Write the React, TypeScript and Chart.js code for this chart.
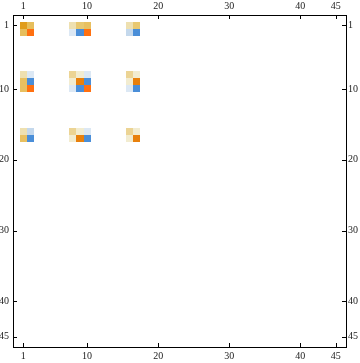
import { useEffect, useRef } from 'react';
import { Chart, registerables } from 'chart.js';

Chart.register(...registerables);

// Non-zero cells of the matrix (row, column, value)
const cellRows = [
  1, 1, 2, 2,
  1, 1, 1, 2, 2, 2,
  1, 1, 2, 2,
  8, 8, 9, 9, 10, 10,
  8, 8, 8, 9, 9, 9, 10, 10, 10,
  8, 8, 9, 9, 10, 10,
  16, 16, 17, 17,
  16, 16, 16, 17, 17, 17,
  16, 16, 17, 17,
];
const cellCols = [
  1, 2, 1, 2,
  8, 9, 10, 8, 9, 10,
  16, 17, 16, 17,
  1, 2, 1, 2, 1, 2,
  8, 9, 10, 8, 9, 10, 8, 9, 10,
  16, 17, 16, 17, 16, 17,
  1, 2, 1, 2,
  8, 9, 10, 8, 9, 10,
  16, 17, 16, 17,
];
const cellValues = [
  0.7, 0.45, 0.45, 1,
  0.2, 0.4, 0.5, -0.15, -1, 1,
  0.2, 0.4, -0.3, -1,
  0.2, -0.15, 0.5, -1, 0.5, 1,
  0.3, 0.1, -0.15, 0.1, 0.85, -1, -0.15, -1, 1,
  0.3, 0.1, 0.1, 0.85, -0.15, -1,
  0.2, -0.3, 0.5, -1,
  0.3, 0.1, -0.15, 0.1, 0.85, -1,
  0.3, 0.1, 0.1, 0.85,
];
const tickValues = [1, 10, 20, 30, 40, 45];
const axisMin = -0.43;
const axisMax = 46.43;

const colorStops: [number, number[]][] = [
  [-1, [74, 142, 216]],
  [-0.3, [196, 216, 236]],
  [-0.15, [220, 232, 244]],
  [0, [250, 248, 240]],
  [0.1, [242, 236, 208]],
  [0.2, [238, 224, 176]],
  [0.3, [236, 212, 148]],
  [0.4, [232, 200, 112]],
  [0.45, [230, 190, 92]],
  [0.5, [232, 192, 96]],
  [0.7, [224, 156, 28]],
  [0.85, [232, 128, 12]],
  [1, [255, 112, 16]],
];

function colorFor(v: number): string {
  for (let i = 0; i < colorStops.length - 1; i++) {
    const [a, ca] = colorStops[i];
    const [b, cb] = colorStops[i + 1];
    if (v >= a && v <= b) {
      const t = b === a ? 0 : (v - a) / (b - a);
      const c = ca.map((x, k) => Math.round(x + (cb[k] - x) * t));
      return `rgb(${c[0]},${c[1]},${c[2]})`;
    }
  }
  const c = v < 0 ? colorStops[0][1] : colorStops[colorStops.length - 1][1];
  return `rgb(${c[0]},${c[1]},${c[2]})`;
}

const cellPlugin = {
  id: 'cells',
  beforeDatasetsDraw(chart: any) {
    const ctx = chart.ctx;
    const xs = chart.scales.x;
    const ys = chart.scales.y;
    const area = chart.chartArea;
    const ds = chart.data.datasets[0];
    ctx.save();
    ctx.beginPath();
    ctx.rect(area.left, area.top, area.right - area.left, area.bottom - area.top);
    ctx.clip();
    ds.data.forEach((p: any) => {
      const x0 = Math.round(xs.getPixelForValue(p.x - 0.5));
      const x1 = Math.round(xs.getPixelForValue(p.x + 0.5));
      const y0 = Math.round(ys.getPixelForValue(p.y - 0.5));
      const y1 = Math.round(ys.getPixelForValue(p.y + 0.5));
      ctx.fillStyle = colorFor(p.v);
      ctx.fillRect(Math.min(x0, x1), Math.min(y0, y1), Math.abs(x1 - x0), Math.abs(y1 - y0));
    });
    ctx.restore();
  },
};

const tickPlugin = {
  id: 'inwardTicks',
  afterDraw(chart: any) {
    const ctx = chart.ctx;
    const area = chart.chartArea;
    const len = 4;
    ctx.save();
    ctx.strokeStyle = '#000';
    ctx.lineWidth = 1;
    ctx.beginPath();
    tickValues.forEach((v) => {
      const px = Math.round(chart.scales.x.getPixelForValue(v)) + 0.5;
      ctx.moveTo(px, Math.round(area.bottom));
      ctx.lineTo(px, Math.round(area.bottom) - len);
      ctx.moveTo(px, Math.round(area.top));
      ctx.lineTo(px, Math.round(area.top) + len);
      const py = Math.round(chart.scales.y.getPixelForValue(v)) + 0.5;
      ctx.moveTo(Math.round(area.left), py);
      ctx.lineTo(Math.round(area.left) + len, py);
      ctx.moveTo(Math.round(area.right), py);
      ctx.lineTo(Math.round(area.right) - len, py);
    });
    ctx.stroke();
    ctx.restore();
  },
};

const font = { family: "'Liberation Serif', 'Times New Roman', serif", size: 10 };
const setTicks = (scale: any) => {
  scale.ticks = tickValues.map((v) => ({ value: v }));
};

function axis(position: string, size: number, reverse: boolean, pad: number) {
  const horizontal = position === 'top' || position === 'bottom';
  return {
    type: 'linear',
    position,
    min: axisMin,
    max: axisMax,
    reverse,
    grid: { display: false, drawTicks: false },
    border: { display: true, color: '#000', width: 1 },
    afterBuildTicks: setTicks,
    afterFit: (s: any) => {
      if (horizontal) s.height = size;
      else s.width = size;
    },
    ticks: {
      autoSkip: false,
      maxRotation: 0,
      padding: pad,
      color: '#222',
      font,
      callback: (v: any) => String(v),
    },
  };
}

export default function App() {
  const ref = useRef<HTMLCanvasElement | null>(null);
  useEffect(() => {
    document.body.style.margin = '0';
    const data = cellValues.map((v, i) => ({ x: cellCols[i], y: cellRows[i], v }));
    const chart = new Chart(ref.current as HTMLCanvasElement, {
      type: 'scatter',
      data: {
        datasets: [
          {
            data,
            pointRadius: 0,
            pointHoverRadius: 0,
            xAxisID: 'x',
            yAxisID: 'y',
          } as any,
        ],
      },
      options: {
        responsive: false,
        animation: false,
        layout: { padding: 0 },
        plugins: { legend: { display: false }, tooltip: { enabled: false } },
        scales: {
          x: axis('bottom', 16, false, 3),
          x2: axis('top', 15, false, 3),
          y: axis('left', 13, true, 4),
          y2: axis('right', 14, true, 2),
        } as any,
      },
      plugins: [cellPlugin, tickPlugin],
    });
    return () => chart.destroy();
  }, []);
  return (
    <div style={{ width: 360, height: 363, background: '#fff' }}>
      <canvas ref={ref} width={360} height={363} />
    </div>
  );
}
